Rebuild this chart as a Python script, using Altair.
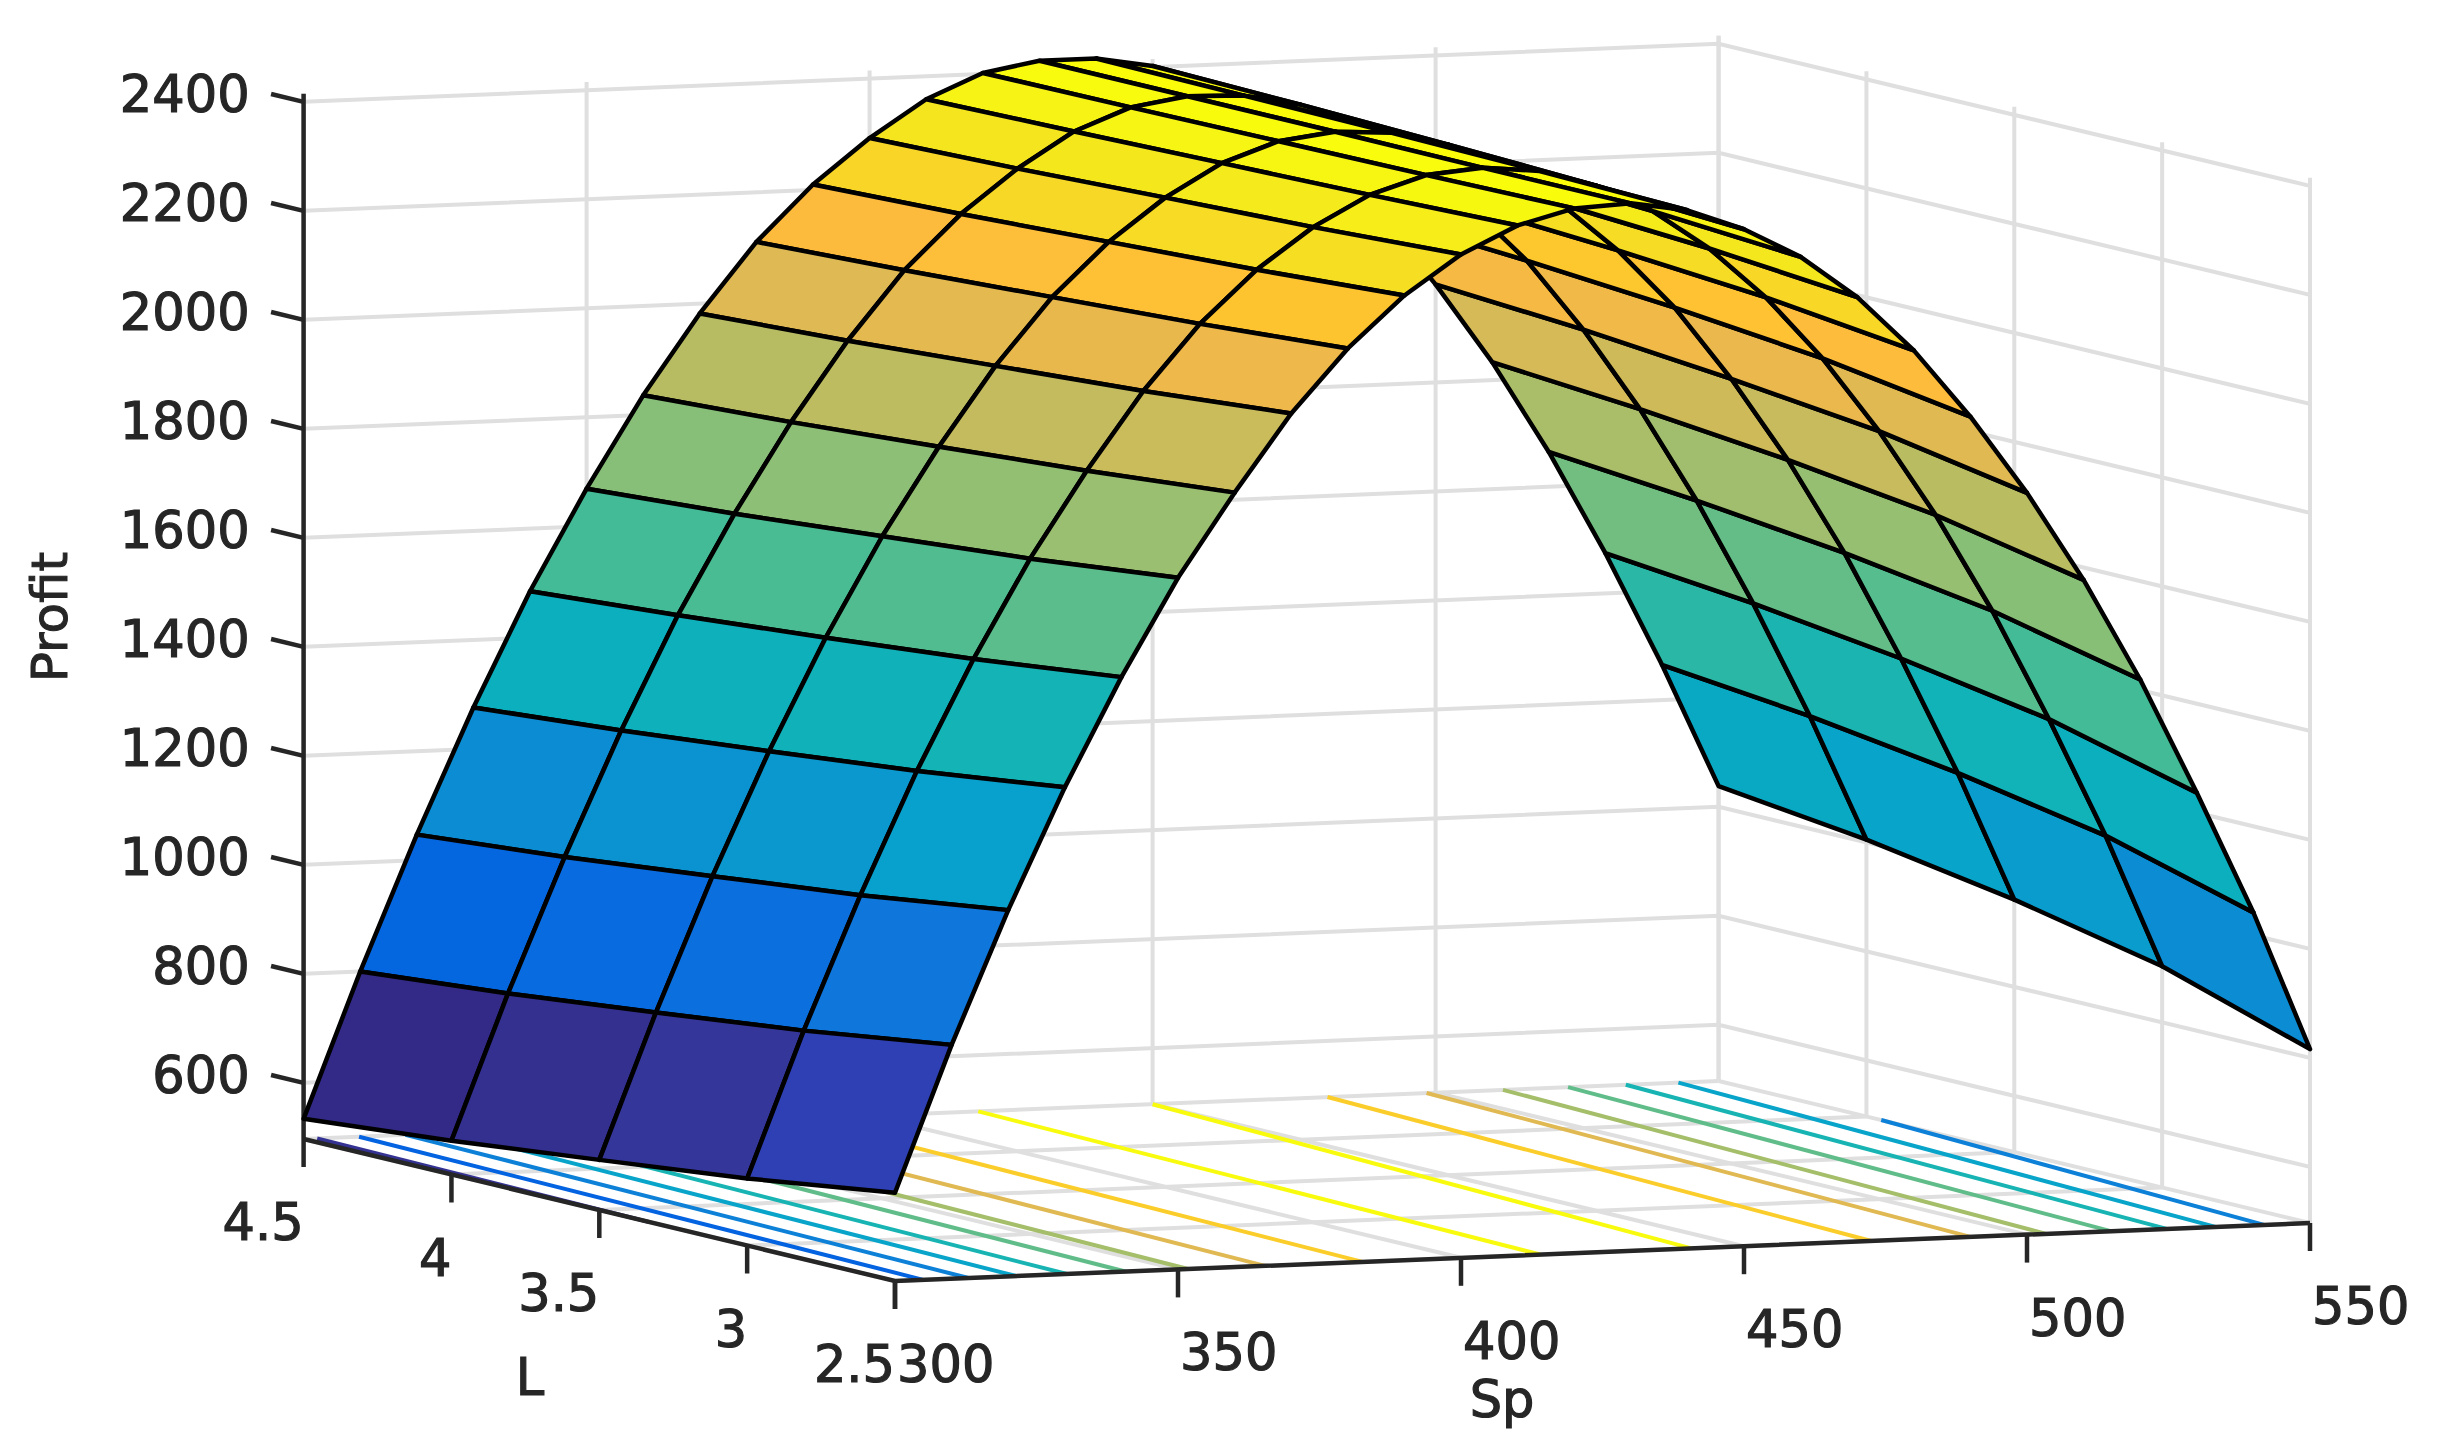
import altair as alt
import pandas as pd

# ---------- data ----------
SP = [300 + 10 * i for i in range(26)]
L_VALUES = [4.5, 4.0, 3.5, 3.0, 2.5]
PROFIT = {
    4.5: [534, 800, 1047, 1276, 1485, 1669, 1836, 1982, 2109, 2210, 2291, 2358, 2402,
          2420, 2420, 2402, 2358, 2292, 2209, 2109, 1980, 1833, 1664, 1474, 1265, 1038],
    4.0: [559, 825, 1071, 1299, 1506, 1688, 1852, 1997, 2122, 2221, 2300, 2364, 2404,
          2420, 2417, 2396, 2350, 2283, 2197, 2093, 1962, 1812, 1640, 1447, 1236, 1005],
    3.5: [589, 855, 1101, 1326, 1530, 1712, 1872, 2016, 2138, 2235, 2312, 2371, 2407,
          2420, 2414, 2388, 2340, 2270, 2181, 2072, 1937, 1784, 1609, 1411, 1197, 960],
    3.0: [620, 887, 1131, 1355, 1556, 1736, 1893, 2035, 2154, 2249, 2323, 2378, 2410,
          2419, 2409, 2378, 2327, 2254, 2160, 2044, 1906, 1748, 1568, 1365, 1147, 903],
    2.5: [659, 926, 1169, 1390, 1588, 1766, 1918, 2059, 2174, 2267, 2338, 2387, 2414,
          2419, 2402, 2363, 2308, 2230, 2128, 2002, 1858, 1694, 1507, 1295, 1071, 816],
}
# contour level, (Sp, L) start, (Sp, L) end
CONTOURS = [
    (600, 302.4, 4.5, 300.0, 3.33),
    (800, 309.8, 4.5, 305.0, 2.5),
    (1000, 318.0, 4.5, 313.0, 2.5),
    (1200, 326.5, 4.5, 321.4, 2.5),
    (1400, 335.5, 4.5, 330.4, 2.5),
    (1600, 346.0, 4.5, 340.7, 2.5),
    (1800, 357.0, 4.5, 351.8, 2.5),
    (2000, 370.5, 4.5, 365.4, 2.5),
    (2200, 388.0, 4.5, 382.6, 2.5),
    (2400, 419.2, 4.5, 414.0, 2.5),
    (2400, 450.0, 4.5, 440.7, 2.5),
    (2200, 480.9, 4.5, 472.5, 2.5),
    (2000, 498.4, 4.5, 490.0, 2.5),
    (1800, 511.9, 4.5, 503.4, 2.5),
    (1600, 523.4, 4.5, 514.8, 2.5),
    (1400, 533.6, 4.5, 524.7, 2.5),
    (1200, 542.9, 4.5, 533.3, 2.5),
    (1000, 550.0, 3.95, 541.9, 2.5),
]
Z_TICKS = [600, 800, 1000, 1200, 1400, 1600, 1800, 2000, 2200, 2400]
SP_TICKS = [300, 350, 400, 450, 500, 550]
L_TICKS = [2.5, 3.0, 3.5, 4.0, 4.5]
L_LABELS = ["2.5", "3", "3.5", "4", "4.5"]
COLOR_DOMAIN = [534, 590, 620, 659, 720, 800, 926, 1071, 1169, 1276, 1390, 1506, 1588,
                1688, 1766, 1852, 1893, 1997, 2059, 2122, 2174, 2221, 2300, 2400, 2420]
COLOR_RANGE = ["#32257f", "#33308f", "#353699", "#2e40b3", "#1c50c9", "#0363e1", "#0f76dc",
               "#0c8cd2", "#08a0cc", "#0aaec0", "#13b3b6", "#42bb96", "#5bbd8b", "#87bf78",
               "#9abf70", "#b7bc62", "#c3bb5e", "#dfb953", "#eeb84a", "#fdbb3e", "#fec42f",
               "#f8d527", "#f4e51f", "#f8fb0e", "#fafc0a"]

# ---------- view (orthographic projection of the MATLAB axes) ----------
Z_MIN, Z_TOP = 497, 2415
W, H = 2422, 1436
FONT = "DejaVu Sans"
FS = 51
INK = "#262626"
GRID = "#dfdfdf"


def px(sp, l):
    return 895 + (sp - 300) * 5.66 - (l - 2.5) * 295.7


def py(sp, l, z=Z_MIN):
    return 1281 - (sp - 300) * 0.232 - (l - 2.5) * 71 - (z - Z_MIN) * 0.545


X = alt.X("px:Q", scale=alt.Scale(domain=[8, 8 + W], nice=False, zero=False), axis=None)
Y = alt.Y("py:Q", scale=alt.Scale(domain=[8 + H, 8], nice=False, zero=False), axis=None)


def polylines(segments):
    rows = []
    for n, seg in enumerate(segments):
        for i, (sp, l, z, *extra) in enumerate(seg):
            rows.append({"id": n, "i": i, "px": px(sp, l), "py": py(sp, l, z) + (extra[0] if extra else 0)})
    return pd.DataFrame(rows)


def lines(segments, color, width):
    return alt.Chart(polylines(segments)).mark_line(
        color=color, strokeWidth=width, strokeCap="butt", clip=False
    ).encode(x=X, y=Y, detail="id:N", order="i:Q")


# grid
grid = []
for s in SP_TICKS:
    grid.append([(s, 2.5, Z_MIN), (s, 4.5, Z_MIN)])
    grid.append([(s, 4.5, Z_MIN), (s, 4.5, Z_TOP)])
for l in L_TICKS:
    grid.append([(300, l, Z_MIN), (550, l, Z_MIN)])
    grid.append([(550, l, Z_MIN), (550, l, Z_TOP)])
for z in Z_TICKS:
    grid.append([(300, 4.5, z), (550, 4.5, z), (550, 2.5, z)])

# axes and ticks
axes = [
    [(300, 4.5, Z_MIN), (300, 4.5, Z_TOP)],
    [(300, 4.5, Z_MIN), (300, 2.5, Z_MIN), (550, 2.5, Z_MIN)],
]
for s in SP_TICKS:
    axes.append([(s, 2.5, Z_MIN), (s, 2.5, Z_MIN, 28)])
for l in L_TICKS:
    axes.append([(300, l, Z_MIN), (300, l, Z_MIN, 28)])
for z in Z_TICKS:
    axes.append([(300, 4.5, z), (300, 4.61, z)])

# contours on the floor
contour_rows = []
for n, (lev, s0, l0, s1, l1) in enumerate(CONTOURS):
    contour_rows.append({"id": n, "i": 0, "level": lev, "px": px(s0, l0), "py": py(s0, l0)})
    contour_rows.append({"id": n, "i": 1, "level": lev, "px": px(s1, l1), "py": py(s1, l1)})
color_scale = alt.Scale(domain=COLOR_DOMAIN, range=COLOR_RANGE, interpolate="rgb")
contours = alt.Chart(pd.DataFrame(contour_rows)).mark_line(strokeWidth=4, strokeCap="butt").encode(
    x=X, y=Y, detail="id:N", order="i:Q",
    stroke=alt.Stroke("level:Q", scale=color_scale, legend=None),
)

# surface: cells listed far to near, so that near ones cover far ones
cell_rows = []
cid = 0
lvals = L_VALUES  # high L (far) first
for k in range(len(SP) - 2, -1, -1):
    for j in range(len(lvals) - 1):
        hi, lo = lvals[j], lvals[j + 1]
        c = PROFIT[lo][k]
        corners = [(k, lo), (k + 1, lo), (k + 1, hi), (k, hi), (k, lo)]
        for i, (kk, ll) in enumerate(corners):
            cell_rows.append({
                "cell": cid, "i": i, "c": c,
                "px": px(SP[kk], ll), "py": py(SP[kk], ll, PROFIT[ll][kk]),
            })
        cid += 1
surface = alt.Chart(pd.DataFrame(cell_rows)).mark_line(
    stroke="black", strokeWidth=4.5, strokeJoin="round", strokeCap="round"
).encode(
    x=X, y=Y, detail="cell:N", order="i:Q",
    fill=alt.Fill("c:Q", scale=color_scale, legend=None),
)

# text
text_rows = []
for z in Z_TICKS:
    text_rows.append({"t": str(z), "px": px(300, 4.5) - 54, "py": py(300, 4.5, z) - 5, "a": "right"})
for s in SP_TICKS:
    text_rows.append({"t": str(s), "px": px(s, 2.5) + 2, "py": py(s, 2.5) + 86, "a": "left"})
for l, lab in zip(L_TICKS, L_LABELS):
    text_rows.append({"t": lab, "px": px(300, l), "py": py(300, l) + 86, "a": "right"})
tdf = pd.DataFrame(text_rows)


def text_layer(df, align):
    return alt.Chart(df).mark_text(
        font=FONT, fontSize=FS, color=INK, stroke=INK, strokeWidth=1.2, align=align, baseline="middle"
    ).encode(x=X, y=Y, text="t:N")


texts = [text_layer(tdf[tdf.a == a], a) for a in ("right", "left")]
titles = alt.Chart(pd.DataFrame([
    {"t": "L", "px": 530, "py": 1380},
    {"t": "Sp", "px": 1502, "py": 1402},
])).mark_text(font=FONT, fontSize=FS, color=INK, stroke=INK, strokeWidth=1.2, align="center", baseline="middle").encode(
    x=X, y=Y, text="t:N")
ytitle = alt.Chart(pd.DataFrame([{"t": "Profit", "px": 52, "py": 617}])).mark_text(
    font=FONT, fontSize=50, color=INK, stroke=INK, strokeWidth=1, align="center", baseline="middle", angle=270
).encode(x=X, y=Y, text="t:N")

chart = alt.layer(
    lines(grid, GRID, 4), contours, lines(axes, INK, 4.5), surface, *texts, titles, ytitle
).resolve_scale(x="shared", y="shared").properties(
    width=W, height=H, padding=0, autosize=alt.AutoSizeParams(type="none"), background="white"
).configure_view(stroke=None)

chart.save("out.html", embed_options={"renderer": "svg", "actions": False})
